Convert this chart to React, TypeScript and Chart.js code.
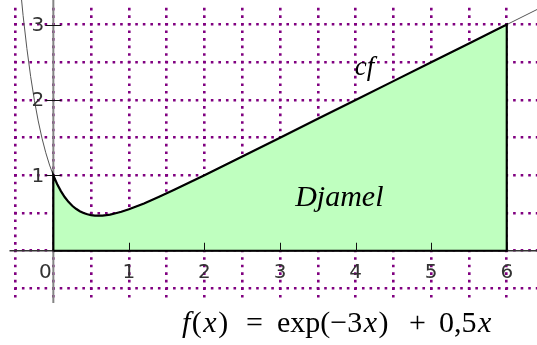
import React, { useEffect, useRef } from 'react';
import { Chart, registerables } from 'chart.js';

Chart.register(...registerables);

const curveX = [-0.45, -0.4, -0.35, -0.3, -0.25, -0.2, -0.15, -0.1, -0.05, 0, 0.05, 0.1, 0.15, 0.2, 0.25, 0.3, 0.35, 0.4, 0.45, 0.5, 0.55, 0.6, 0.65, 0.7, 0.75, 0.8, 0.9, 1.0, 1.2, 1.4, 1.6, 1.8, 2.0, 2.5, 3.0, 3.5, 4.0, 4.5, 5.0, 5.5, 6.0, 6.4, 6.5];
const curveY = [3.632, 3.12, 2.683, 2.31, 1.992, 1.722, 1.493, 1.3, 1.137, 1.0, 0.886, 0.791, 0.713, 0.649, 0.597, 0.557, 0.525, 0.501, 0.484, 0.473, 0.467, 0.465, 0.467, 0.472, 0.48, 0.491, 0.517, 0.55, 0.627, 0.715, 0.808, 0.905, 1.002, 1.251, 1.5, 1.75, 2.0, 2.25, 2.5, 2.75, 3.0, 3.2, 3.25];
const areaStart = 0;
const areaEnd = 6;

const xGrid = [-0.5, 0, 0.5, 1, 1.5, 2, 2.5, 3, 3.5, 4, 4.5, 5, 5.5, 6];
const yGrid = [-0.5, 0, 0.5, 1, 1.5, 2, 2.5, 3];

const xTickValues = [1, 2, 3, 4, 5, 6];
const xTickLabels = ['1', '2', '3', '4', '5', '6'];
const yTickValues = [1, 2, 3];
const yTickLabels = ['1', '2', '3'];
const originLabel = '0';

const curveLabel = 'cf';
const curveLabelAt = { x: 3.99, y: 2.33 };
const areaLabel = 'Djamel';
const areaLabelAt = { x: 3.2, y: 0.6 };

const formulaGroups = [
  [{ t: 'f', i: true }, { t: '(', i: false }, { t: 'x', i: true }, { t: ')', i: false }],
  [{ t: '=', i: false }],
  [{ t: 'exp(−3', i: false }, { t: 'x', i: true }, { t: ')', i: false }],
  [{ t: '+', i: false }],
  [{ t: '0,5', i: false }, { t: 'x', i: true }],
];
const formulaGroupLeft = [182, 246, 277, 409, 439];

const overlay = {
  id: 'overlay',
  beforeDatasetsDraw(chart: any) {
    const { ctx, chartArea: a, scales } = chart;
    const x0 = scales.x.getPixelForValue(0);
    const y0 = scales.y.getPixelForValue(0);
    ctx.save();
    ctx.strokeStyle = '#858585';
    ctx.lineWidth = 2;
    ctx.beginPath();
    ctx.moveTo(x0, 0);
    ctx.lineTo(x0, a.bottom + 1);
    ctx.stroke();
    ctx.strokeStyle = '#333';
    ctx.lineWidth = 1.5;
    ctx.beginPath();
    ctx.moveTo(a.left, y0);
    ctx.lineTo(a.right, y0);
    ctx.stroke();
    ctx.restore();
  },
  afterDraw(chart: any) {
    const { ctx, scales } = chart;
    const sx = scales.x;
    const sy = scales.y;
    const x0 = sx.getPixelForValue(0);
    const y0 = sy.getPixelForValue(0);
    ctx.save();
    ctx.strokeStyle = '#111';
    ctx.lineWidth = 1;
    xTickValues.forEach((v) => {
      const px = Math.round(sx.getPixelForValue(v)) + 0.5;
      ctx.beginPath();
      ctx.moveTo(px, y0 - 8);
      ctx.lineTo(px, y0);
      ctx.stroke();
    });
    yTickValues.forEach((v) => {
      const py = Math.round(sy.getPixelForValue(v)) + 0.5;
      ctx.beginPath();
      ctx.moveTo(x0 - 8, py);
      ctx.lineTo(x0 + 8, py);
      ctx.stroke();
    });
    ctx.fillStyle = '#333';
    ctx.font = '20px "DejaVu Sans"';
    ctx.textAlign = 'center';
    ctx.textBaseline = 'middle';
    xTickValues.forEach((v, i) => {
      ctx.fillText(xTickLabels[i], sx.getPixelForValue(v), y0 + 22);
    });
    ctx.fillText(originLabel, x0 - 8, y0 + 22);
    ctx.textAlign = 'right';
    yTickValues.forEach((v, i) => {
      ctx.fillText(yTickLabels[i], x0 - 9, sy.getPixelForValue(v) + 1);
    });

    ctx.fillStyle = '#000';
    ctx.textAlign = 'left';
    ctx.textBaseline = 'alphabetic';
    ctx.font = 'italic 27px "Liberation Serif"';
    ctx.fillText(curveLabel, sx.getPixelForValue(curveLabelAt.x), sy.getPixelForValue(curveLabelAt.y));
    ctx.font = 'italic 30px "Liberation Serif"';
    ctx.fillText(areaLabel, sx.getPixelForValue(areaLabelAt.x), sy.getPixelForValue(areaLabelAt.y));

    const base = 332;
    formulaGroups.forEach((g, gi) => {
      let cx = formulaGroupLeft[gi];
      g.forEach((p) => {
        ctx.font = (p.i ? 'italic ' : '') + '30px "Liberation Serif"';
        ctx.fillText(p.t, cx, base);
        cx += ctx.measureText(p.t).width + 1.5;
      });
    });
    ctx.restore();
  },
};

export default function App() {
  const ref = useRef<HTMLCanvasElement>(null);
  useEffect(() => {
    document.body.style.margin = '0';
    const canvas = ref.current!;
    const full = curveX.map((x, i) => ({ x, y: curveY[i] }));
    const area = full.filter((p) => p.x >= areaStart && p.x <= areaEnd);
    const outline = [{ x: areaStart, y: 0 }, ...area, { x: areaEnd, y: 0 }, { x: areaStart, y: 0 }];
    const chart = new Chart(canvas, {
      type: 'line',
      data: {
        datasets: [
          {
            data: outline,
            borderColor: '#000',
            borderWidth: 2.2,
            pointRadius: 0,
            fill: false,
            tension: 0,
            order: 1,
          },
          {
            data: full,
            borderColor: '#555',
            borderWidth: 1,
            pointRadius: 0,
            fill: false,
            tension: 0,
            order: 2,
            clip: { left: 0, top: 6, right: 0, bottom: 0 },
          },
          {
            data: area,
            borderWidth: 0,
            borderColor: 'rgba(0,0,0,0)',
            backgroundColor: '#bfffbf',
            pointRadius: 0,
            fill: 'origin',
            tension: 0,
            order: 3,
          },
        ] as any,
      },
      options: {
        animation: false,
        responsive: false,
        devicePixelRatio: 1,
        layout: { padding: { left: 9.5, top: 5, right: 0, bottom: 43 } },
        plugins: { legend: { display: false }, tooltip: { enabled: false } },
        scales: {
          x: {
            type: 'linear',
            min: -0.58,
            max: 6.4,
            z: 1,
            afterBuildTicks: (s: any) => {
              s.ticks = xGrid.map((v) => ({ value: v }));
            },
            afterFit: (s: any) => {
              s.height = 0;
            },
            ticks: { display: false },
            grid: { color: '#800080', lineWidth: 2.6, drawTicks: false },
            border: { display: false, dash: [2.6, 4.957], dashOffset: 4.74 },
          },
          y: {
            type: 'linear',
            min: -0.68,
            max: 3.26,
            z: 1,
            afterBuildTicks: (s: any) => {
              s.ticks = yGrid.map((v) => ({ value: v }));
            },
            afterFit: (s: any) => {
              s.width = 0;
            },
            ticks: { display: false },
            grid: { color: '#800080', lineWidth: 2.6, drawTicks: false },
            border: { display: false, dash: [2.6, 4.957], dashOffset: 3.21 },
          },
        },
      } as any,
      plugins: [overlay],
    });
    return () => chart.destroy();
  }, []);
  return (
    <div style={{ width: 537, height: 345 }}>
      <canvas ref={ref} width={537} height={345} style={{ display: 'block' }} />
    </div>
  );
}
